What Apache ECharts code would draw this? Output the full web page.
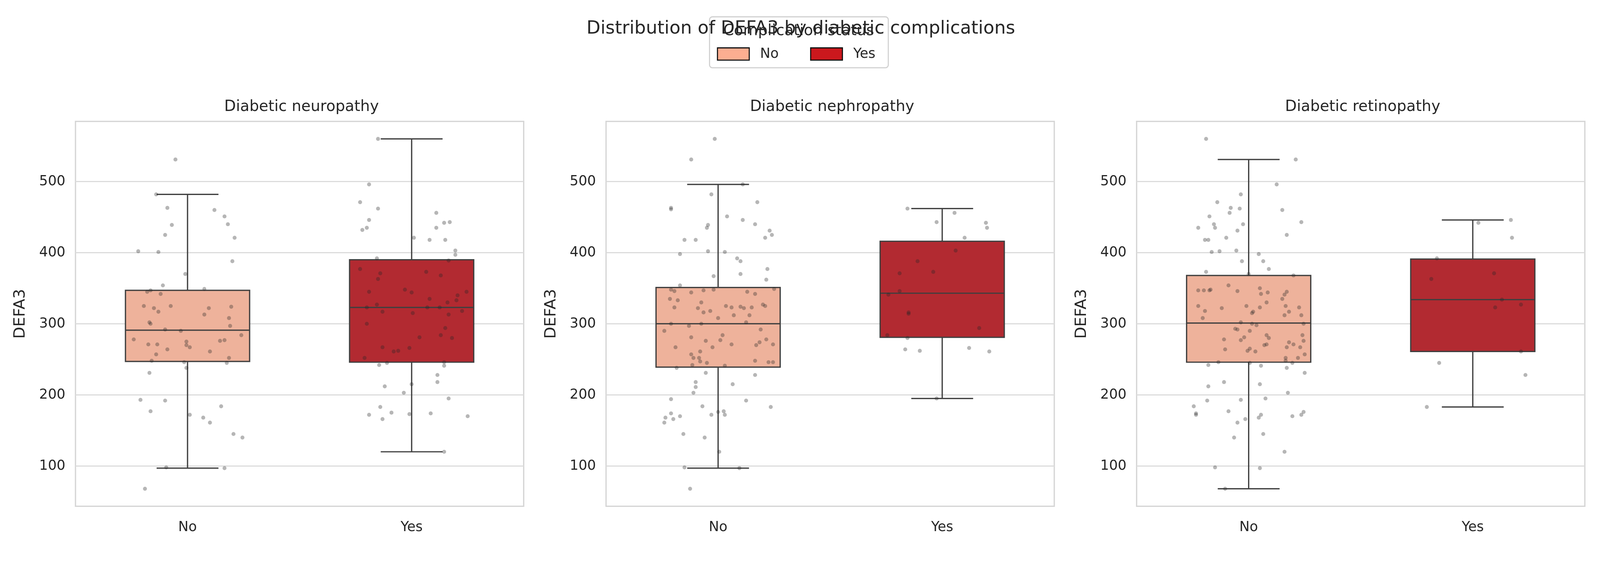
<!DOCTYPE html>
<html>
<head>
<meta charset="utf-8">
<script src="https://cdn.jsdelivr.net/npm/echarts@6/dist/echarts.min.js"></script>
<style>
  html, body { margin: 0; padding: 0; background: #fff; overflow: hidden; }
  #chart-wrapper { width: 100vw; height: 100vh; }
</style>
</head>
<body>
<div id="chart-wrapper"></div>
<script>
const panelTitles = ['Diabetic neuropathy', 'Diabetic nephropathy', 'Diabetic retinopathy']
const categories = ['No', 'Yes']
const yTicks = [100, 200, 300, 400, 500]

// box stats per panel: [category, lower whisker, q1, median, q3, upper whisker]
const boxNeuropathy = [[0, 97, 247, 291, 347, 482], [1, 120, 246, 323, 390, 560]]
const boxNephropathy = [[0, 97, 239, 300, 351, 496], [1, 195, 281, 343, 416, 462]]
const boxRetinopathy = [[0, 68, 246, 301, 368, 531], [1, 183, 261, 334, 391, 446]]

// jittered points: [offset from category centre, value]
const neuroNo = [[-0.054,531],[-0.14,482],[-0.09,463],[-0.07,439],[-0.10,425],[-0.22,402],[-0.13,401],[0.12,460],[0.165,451],[0.18,440],[0.21,421],[0.20,388],[-0.01,370],[-0.11,354],[-0.18,345],[-0.165,347],[-0.12,342],[0.075,349],[-0.195,325],[-0.15,322],[-0.13,317],[-0.075,325],[0.095,322],[0.195,324],[0.075,313],[0.185,308],[-0.17,302],[-0.165,300],[0.19,297],[-0.10,292],[-0.03,290],[0.24,284],[-0.24,278],[-0.005,275],[0.145,276],[0.165,277],[-0.175,271],[-0.135,271],[-0.005,270],[0.01,267],[-0.09,264],[0.10,261],[-0.14,257],[0.185,252],[-0.16,248],[-0.015,246],[0.175,245],[-0.005,238],[-0.17,231],[-0.21,193],[-0.10,192],[-0.165,177],[0.15,184],[0.01,172],[0.07,168],[0.10,161],[0.205,145],[0.245,140],[-0.095,98],[0.165,97],[-0.19,68]]
const neuroYes = [[-0.15,560],[-0.19,496],[-0.23,471],[-0.15,462],[-0.19,446],[-0.20,435],[-0.22,432],[0.11,456],[0.145,442],[0.17,443],[0.11,435],[0.01,421],[0.08,418],[0.15,418],[0.195,403],[0.195,397],[-0.155,392],[0.165,389],[-0.23,377],[0.065,373],[-0.14,371],[0.13,368],[-0.15,363],[-0.03,348],[-0.19,345],[0.0,344],[0.245,345],[0.205,340],[0.08,335],[0.20,333],[0.16,330],[-0.155,327],[-0.20,323],[0.07,323],[0.125,323],[-0.13,317],[0.225,318],[0.005,315],[0.165,313],[-0.20,300],[0.15,294],[0.035,281],[0.13,284],[0.18,280],[-0.13,267],[-0.01,266],[-0.08,261],[-0.06,262],[-0.21,252],[-0.11,245],[0.145,246],[-0.145,242],[0.145,241],[0.115,228],[0.0,215],[0.115,218],[-0.12,212],[-0.035,203],[0.165,195],[-0.14,183],[-0.09,175],[-0.19,172],[-0.13,166],[-0.01,173],[0.085,174],[0.25,170],[0.145,120]]
const nephroNo = [[-0.015,560],[-0.12,531],[0.11,496],[-0.03,482],[-0.21,463],[-0.21,461],[0.175,471],[0.04,451],[0.11,446],[-0.05,435],[-0.045,439],[0.165,440],[0.23,431],[0.24,425],[0.21,421],[-0.15,418],[-0.10,418],[-0.17,398],[-0.045,402],[0.03,401],[0.085,392],[0.10,388],[0.22,377],[0.10,370],[-0.02,367],[0.215,362],[-0.17,354],[-0.21,348],[-0.195,346],[-0.12,344],[-0.065,347],[-0.02,348],[0.13,345],[0.165,342],[0.25,349],[-0.215,335],[-0.18,333],[-0.075,330],[-0.195,323],[-0.09,322],[-0.065,316],[-0.035,318],[0.035,325],[0.06,323],[0.10,324],[0.115,322],[0.15,323],[0.20,327],[0.21,325],[0.07,312],[0.14,312],[0.0,308],[-0.21,300],[-0.075,300],[-0.13,297],[0.125,302],[-0.24,290],[0.19,292],[-0.12,281],[0.02,284],[-0.055,276],[0.01,277],[0.215,278],[0.185,274],[0.17,270],[0.245,271],[0.06,271],[-0.19,267],[-0.025,267],[-0.08,261],[-0.12,257],[-0.11,252],[-0.085,252],[-0.08,247],[-0.05,245],[0.165,248],[0.225,246],[0.245,246],[-0.115,242],[0.03,241],[-0.185,238],[-0.055,231],[0.165,228],[-0.10,218],[-0.10,211],[-0.11,203],[0.065,215],[-0.21,194],[0.125,192],[-0.07,184],[0.235,183],[-0.21,174],[0.0,176],[0.025,177],[-0.03,172],[0.03,172],[-0.17,170],[-0.235,168],[-0.20,166],[-0.24,161],[-0.155,145],[-0.06,140],[0.005,120],[-0.15,98],[0.095,97],[-0.125,68]]
const nephroYes = [[-0.155,462],[0.055,456],[-0.025,443],[0.195,442],[0.2,435],[0.10,421],[0.06,403],[-0.11,388],[-0.04,373],[-0.19,371],[-0.19,346],[-0.24,341],[-0.15,316],[-0.15,314],[0.165,294],[-0.245,284],[-0.155,280],[-0.165,264],[-0.10,262],[0.12,266],[0.21,261],[-0.025,195]]
const retinoNo = [[-0.19,560],[0.21,531],[0.125,496],[-0.035,482],[-0.14,471],[-0.08,463],[-0.04,462],[-0.085,456],[0.15,460],[-0.175,451],[-0.155,440],[-0.15,435],[-0.025,440],[0.235,443],[-0.225,435],[-0.05,431],[0.17,425],[-0.10,421],[-0.195,418],[-0.18,418],[-0.165,401],[-0.13,402],[-0.055,403],[0.045,398],[-0.03,388],[0.065,388],[0.09,377],[-0.19,373],[0.0,370],[0.20,368],[-0.09,354],[0.05,350],[-0.225,347],[-0.20,347],[-0.175,347],[-0.17,348],[-0.05,346],[0.085,344],[0.17,345],[0.055,342],[0.16,341],[0.15,335],[0.08,330],[-0.225,325],[-0.12,322],[-0.01,325],[0.05,323],[0.165,325],[0.225,323],[-0.195,318],[0.015,315],[0.02,317],[0.18,317],[0.16,312],[0.235,312],[-0.205,308],[-0.035,302],[0.015,300],[0.035,298],[0.245,300],[-0.06,293],[-0.05,292],[0.005,290],[0.08,284],[0.09,280],[0.24,284],[-0.02,281],[-0.11,278],[-0.035,277],[0.245,276],[0.18,274],[0.20,271],[0.07,270],[0.08,271],[0.17,267],[0.23,267],[0.005,265],[-0.105,264],[-0.005,262],[0.03,261],[0.25,257],[0.165,252],[0.22,252],[0.165,248],[-0.135,246],[0.005,245],[0.195,245],[-0.18,242],[0.055,241],[0.17,238],[0.25,231],[-0.11,218],[0.05,215],[-0.18,212],[0.175,203],[0.075,195],[-0.035,193],[-0.185,192],[-0.245,184],[-0.235,174],[-0.235,172],[-0.09,177],[0.245,176],[0.235,172],[0.195,170],[0.055,172],[0.045,168],[-0.015,166],[-0.05,161],[0.065,145],[-0.065,140],[0.16,120],[-0.15,98],[0.05,97],[-0.105,68]]
const retinoYes = [[0.17,446],[0.025,442],[0.175,421],[-0.16,392],[0.095,371],[-0.185,363],[0.13,334],[0.215,327],[0.10,323],[0.215,261],[-0.15,245],[0.235,228],[-0.205,183]]

const boxes = [boxNeuropathy, boxNephropathy, boxRetinopathy]
const points = [[neuroNo, neuroYes], [nephroNo, nephroYes], [retinoNo, retinoYes]]

const boxColors = ['#eeb29b', '#b22a31']
const legendColors = ['#fcae91', '#cb181d']
const edge = '#3f3f3f'
const font = 'DejaVu Sans'

const chartDom = document.getElementById('chart-wrapper')
// layout was measured on a 4430 px wide canvas; scale to whatever the viewport really is
const s = chartDom.clientWidth / 4430
const P = v => v * s

const gridLefts = [209, 1678, 3147]
const gridWidth = 1241
const gridTop = 336
const gridHeight = 1065

const renderBox = (params, api) => {
  const cat = api.value(0)
  const lo = api.coord([cat, api.value(1)])
  const q1 = api.coord([cat, api.value(2)])
  const med = api.coord([cat, api.value(3)])
  const q3 = api.coord([cat, api.value(4)])
  const hi = api.coord([cat, api.value(5)])
  const band = api.size([1, 0])[0]
  const half = band * 0.277
  const cap = band * 0.138
  const cx = lo[0]
  const line = { stroke: edge, lineWidth: P(3.5) }
  return {
    type: 'group',
    children: [
      { type: 'line', shape: { x1: cx, y1: hi[1], x2: cx, y2: q3[1] }, style: line },
      { type: 'line', shape: { x1: cx, y1: q1[1], x2: cx, y2: lo[1] }, style: line },
      { type: 'line', shape: { x1: cx - cap, y1: hi[1], x2: cx + cap, y2: hi[1] }, style: line },
      { type: 'line', shape: { x1: cx - cap, y1: lo[1], x2: cx + cap, y2: lo[1] }, style: line },
      { type: 'rect', shape: { x: cx - half, y: q3[1], width: half * 2, height: q1[1] - q3[1] },
        style: { fill: boxColors[cat], stroke: edge, lineWidth: P(3.5) } },
      { type: 'line', shape: { x1: cx - half, y1: med[1], x2: cx + half, y2: med[1] }, style: line }
    ]
  }
}

const grid = []
const xAxis = []
const yAxis = []
const series = []
const title = [{
  text: 'Distribution of DEFA3 by diabetic complications',
  left: P(2212), top: P(50), textAlign: 'center',
  textStyle: { fontFamily: font, fontSize: P(50), fontWeight: 'normal', color: '#262626' }
}]

panelTitles.forEach((name, i) => {
  grid.push({ left: P(gridLefts[i]), top: P(gridTop), width: P(gridWidth), height: P(gridHeight),
    show: true, borderColor: '#d5d5d5', borderWidth: P(3.5), backgroundColor: '#fff' })
  title.push({ text: name, left: P(gridLefts[i] + gridWidth / 2), top: P(270), textAlign: 'center',
    textStyle: { fontFamily: font, fontSize: P(42), fontWeight: 'normal', color: '#262626' } })
  xAxis.push({ type: 'category', gridIndex: i, data: categories,
    axisLine: { show: false }, axisTick: { show: false },
    axisLabel: { fontFamily: font, fontSize: P(38), color: '#262626', margin: P(40) } })
  xAxis.push({ type: 'value', gridIndex: i, min: -0.5, max: 1.5, show: false })
  yAxis.push({ type: 'value', gridIndex: i, min: 43.4, max: 584.6,
    name: 'DEFA3', nameLocation: 'middle', nameGap: P(130),
    nameTextStyle: { fontFamily: font, fontSize: P(43), color: '#262626' },
    axisLine: { show: false }, axisTick: { show: false }, splitLine: { show: false },
    axisLabel: { customValues: yTicks, fontFamily: font, fontSize: P(38), color: '#262626', margin: P(28) } })

  // horizontal grid lines, kept on the lower layer so boxes sit above them
  series.push({
    type: 'scatter', xAxisIndex: i * 2 + 1, yAxisIndex: i, data: [], silent: true, zlevel: 0,
    markLine: { silent: true, symbol: 'none', label: { show: false },
      lineStyle: { color: '#dcdcdc', width: P(3), type: 'solid' },
      data: yTicks.map(v => ({ yAxis: v })) }
  })
  series.push({
    type: 'custom', xAxisIndex: i * 2, yAxisIndex: i, data: boxes[i],
    renderItem: renderBox, silent: true, zlevel: 1, z: 2
  })
  points[i].forEach((pts, c) => {
    series.push({
      type: 'scatter', xAxisIndex: i * 2 + 1, yAxisIndex: i, silent: true, zlevel: 1, z: 3,
      symbolSize: P(11),
      itemStyle: { color: 'rgba(40,40,40,0.42)' },
      data: pts.map(p => [c + p[0], p[1]])
    })
  })
})

const legendGraphic = {
  type: 'group', left: P(1963), top: P(45), zlevel: 2,
  children: [
    { type: 'rect', shape: { x: 0, y: 0, width: P(495), height: P(141), r: P(8) },
      style: { fill: 'rgba(255,255,255,0.85)', stroke: '#d0d0d0', lineWidth: P(3) } },
    { type: 'text', style: { x: P(247), y: P(40), text: 'Complication status', align: 'center',
      verticalAlign: 'middle', font: P(42) + 'px "DejaVu Sans"', fill: '#262626' } },
    { type: 'rect', shape: { x: P(22), y: P(86), width: P(88), height: P(34) },
      style: { fill: legendColors[0], stroke: '#111', lineWidth: P(3) } },
    { type: 'text', style: { x: P(140), y: P(104), text: 'No', verticalAlign: 'middle',
      font: P(38) + 'px "DejaVu Sans"', fill: '#262626' } },
    { type: 'rect', shape: { x: P(280), y: P(86), width: P(88), height: P(34) },
      style: { fill: legendColors[1], stroke: '#111', lineWidth: P(3) } },
    { type: 'text', style: { x: P(398), y: P(104), text: 'Yes', verticalAlign: 'middle',
      font: P(38) + 'px "DejaVu Sans"', fill: '#262626' } }
  ]
}

const chart = echarts.init(chartDom)
chart.setOption({
  backgroundColor: '#fff',
  animation: false,
  title,
  grid,
  xAxis,
  yAxis,
  series,
  graphic: [legendGraphic]
})
</script>
</body>
</html>
